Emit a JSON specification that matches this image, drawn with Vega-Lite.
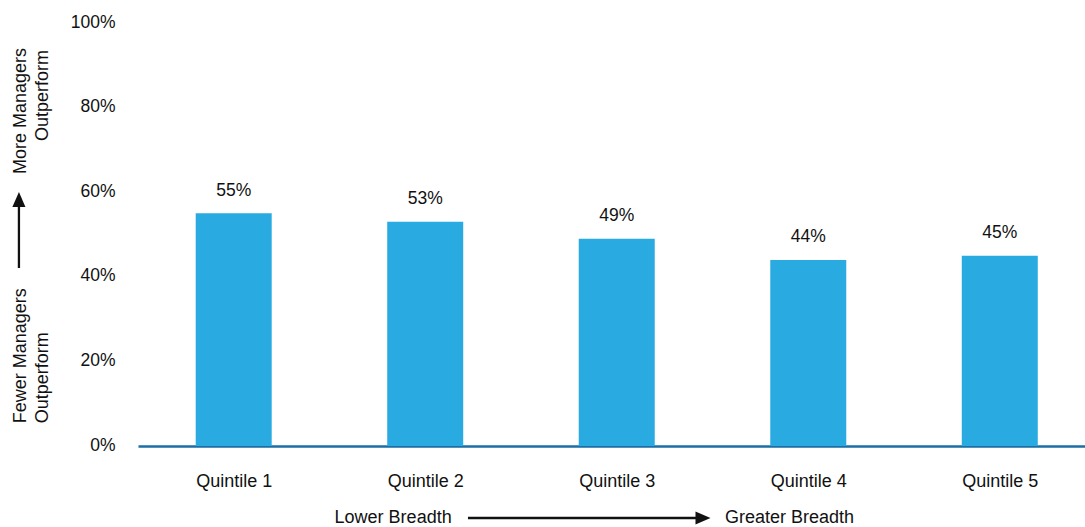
{
  "$schema": "https://vega.github.io/schema/vega-lite/v6.json",
  "autosize": {"type": "none"},
  "padding": {"left": 138, "top": 23, "right": 0, "bottom": 81},
  "width": 947,
  "height": 423,
  "background": "white",
  "config": {
    "view": {"stroke": null},
    "font": "Liberation Sans, Arial, sans-serif",
    "text": {"font": "Liberation Sans, Arial, sans-serif", "color": "#111111"}
  },
  "datasets": {
    "bars": [
      {"quintile": 1, "share": 0.55},
      {"quintile": 2, "share": 0.53},
      {"quintile": 3, "share": 0.49},
      {"quintile": 4, "share": 0.44},
      {"quintile": 5, "share": 0.45}
    ]
  },
  "layer": [
    {
      "data": {"name": "bars"},
      "mark": {"type": "bar", "orient": "vertical", "width": 76, "color": "#29abe2"},
      "encoding": {
        "x": {
          "field": "quintile", "type": "quantitative",
          "scale": {"domain": [0.5003, 5.445], "nice": false, "zero": false, "padding": 0},
          "axis": {
            "values": [1, 2, 3, 4, 5],
            "labelExpr": "'Quintile ' + datum.value",
            "title": null,
            "grid": false,
            "ticks": false,
            "tickSize": 0,
            "domainColor": "#1c6ea4",
            "domainWidth": 2.5,
            "labelFontSize": 18,
            "labelColor": "#111111",
            "labelBaseline": "alphabetic",
            "labelPadding": 40,
            "labelFlush": false,
            "labelOverlap": false
          }
        },
        "y": {
          "field": "share", "type": "quantitative",
          "scale": {"domain": [0, 1], "nice": false, "padding": 0},
          "axis": {
            "values": [0, 0.2, 0.4, 0.6, 0.8, 1],
            "format": ".0%",
            "title": null,
            "grid": false,
            "ticks": false,
            "tickSize": 0,
            "domain": false,
            "labelFontSize": 17.5,
            "labelColor": "#111111",
            "labelBaseline": "alphabetic",
            "labelOffset": 4,
            "labelPadding": 23,
            "labelFlush": false,
            "labelOverlap": false
          }
        }
      }
    },
    {
      "data": {"name": "bars"},
      "mark": {"type": "text", "fontSize": 17.5, "baseline": "alphabetic", "dy": -17.5, "align": "center"},
      "encoding": {
        "x": {"field": "quintile", "type": "quantitative"},
        "y": {"field": "share", "type": "quantitative"},
        "text": {"field": "share", "type": "quantitative", "format": ".0%"}
      }
    },
    {
      "data": {"values": [
        {"px": -0.0849, "py": 0.9409, "label": "More Managers"},
        {"px": 0.030, "py": 0.936, "label": "Outperform"}
      ]},
      "mark": {"type": "text", "fontSize": 18, "angle": 270, "align": "right", "baseline": "alphabetic", "clip": false},
      "encoding": {
        "x": {"field": "px", "type": "quantitative"},
        "y": {"field": "py", "type": "quantitative"},
        "text": {"field": "label"}
      }
    },
    {
      "data": {"values": [
        {"px": -0.0849, "py": 0.0537, "label": "Fewer Managers"},
        {"px": 0.030, "py": 0.0537, "label": "Outperform"}
      ]},
      "mark": {"type": "text", "fontSize": 18, "angle": 270, "align": "left", "baseline": "alphabetic", "clip": false},
      "encoding": {
        "x": {"field": "px", "type": "quantitative"},
        "y": {"field": "py", "type": "quantitative"},
        "text": {"field": "label"}
      }
    },
    {
      "data": {"values": [
        {"px": 2.1381, "py": -0.1827, "label": "Lower Breadth"}
      ]},
      "mark": {"type": "text", "fontSize": 18, "align": "right", "baseline": "alphabetic", "clip": false},
      "encoding": {
        "x": {"field": "px", "type": "quantitative"},
        "y": {"field": "py", "type": "quantitative"},
        "text": {"field": "label"}
      }
    },
    {
      "data": {"values": [
        {"px": 3.5653, "py": -0.1827, "label": "Greater Breadth"}
      ]},
      "mark": {"type": "text", "fontSize": 18, "align": "left", "baseline": "alphabetic", "clip": false},
      "encoding": {
        "x": {"field": "px", "type": "quantitative"},
        "y": {"field": "py", "type": "quantitative"},
        "text": {"field": "label"}
      }
    },
    {
      "data": {"values": [
        {"x1": -0.1214, "x2": -0.1214, "y1": 0.4208, "y2": 0.572},
        {"x1": 2.2232, "x2": 3.4347, "y1": -0.1702, "y2": -0.1702}
      ]},
      "mark": {"type": "rule", "color": "#111111", "strokeWidth": 2.3, "clip": false},
      "encoding": {
        "x": {"field": "x1", "type": "quantitative"},
        "x2": {"field": "x2"},
        "y": {"field": "y1", "type": "quantitative"},
        "y2": {"field": "y2"}
      }
    },
    {
      "data": {"values": [
        {"px": -0.1214, "py": 0.5827}
      ]},
      "mark": {"type": "point", "shape": "M0,-1L-0.87,1L0.87,1Z", "size": 225, "filled": true, "color": "#111111", "opacity": 1, "clip": false},
      "encoding": {
        "x": {"field": "px", "type": "quantitative"},
        "y": {"field": "py", "type": "quantitative"}
      }
    },
    {
      "data": {"values": [
        {"px": 3.4504, "py": -0.1702}
      ]},
      "mark": {"type": "point", "shape": "M1,0L-1,-0.87L-1,0.87Z", "size": 225, "filled": true, "color": "#111111", "opacity": 1, "clip": false},
      "encoding": {
        "x": {"field": "px", "type": "quantitative"},
        "y": {"field": "py", "type": "quantitative"}
      }
    }
  ]
}
